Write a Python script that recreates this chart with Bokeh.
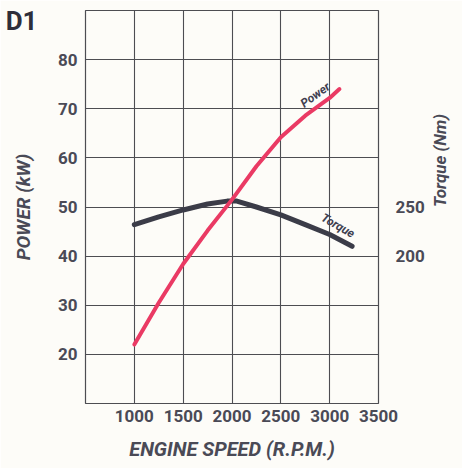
import math
from bokeh.plotting import figure
from bokeh.models import Range1d, LinearAxis, FixedTicker, Label
from bokeh.embed import file_html
from bokeh.resources import INLINE

# ---- data ----
power_rpm = [1000, 1250, 1500, 1750, 2000, 2250, 2500, 2750, 3000, 3100]
power_kw = [22.0, 30.5, 38.4, 45.2, 51.5, 58.3, 64.2, 68.6, 72.2, 74.0]
torque_rpm = [1000, 1250, 1500, 1750, 1950, 2050, 2250, 2500, 2750, 3000, 3230]
torque_nm = [232, 240, 247, 253, 256, 256, 250, 242, 232, 222, 210]
x_ticks = [1000, 1500, 2000, 2500, 3000, 3500]
power_ticks = [20, 30, 40, 50, 60, 70, 80]
torque_ticks = [200, 250]
corner_title = "D1"

FONT = "Roboto"
TXT = "#4a4a56"
GRID = "#4d4d52"
BG = "#fdfcf8"

p = figure(width=462, height=468, output_backend="svg", toolbar_location=None,
           x_range=Range1d(500, 3500), y_range=Range1d(10, 90),
           min_border_left=85, min_border_right=80, min_border_top=10, min_border_bottom=65,
           background_fill_color=BG, border_fill_color=BG)
p.extra_y_ranges = {"torque": Range1d(50, 450)}

p.outline_line_color = GRID
p.outline_line_width = 1.2
p.xgrid.ticker = FixedTicker(ticks=x_ticks)
p.ygrid.ticker = FixedTicker(ticks=power_ticks)
for g in (p.xgrid, p.ygrid):
    g.grid_line_color = GRID
    g.grid_line_width = 1.1

def style_axis(ax, ticks, size="17px"):
    ax.ticker = FixedTicker(ticks=ticks)
    ax.axis_line_color = None
    ax.major_tick_line_color = None
    ax.minor_tick_line_color = None
    ax.major_tick_out = 0
    ax.major_tick_in = 0
    ax.minor_tick_out = 0
    ax.major_label_text_font = FONT
    ax.major_label_text_font_style = "bold"
    ax.major_label_text_font_size = size
    ax.major_label_text_color = TXT
    ax.axis_label_text_font = FONT
    ax.axis_label_text_font_style = "bold italic"
    ax.axis_label_text_color = TXT

style_axis(p.xaxis[0], x_ticks)
p.xaxis[0].axis_label = "ENGINE SPEED (R.P.M.)"
p.xaxis[0].axis_label_text_font_size = "20px"
p.xaxis[0].major_label_standoff = 6
p.xaxis[0].axis_label_standoff = 12

style_axis(p.yaxis[0], power_ticks)
p.yaxis[0].axis_label = "POWER (kW)"
p.yaxis[0].axis_label_text_font_size = "19px"
p.yaxis[0].major_label_standoff = 8
p.yaxis[0].axis_label_standoff = 20

# outer left axis used only to place the corner title at the top-left
cax = LinearAxis()
style_axis(cax, [87.8], "26px")
cax.major_label_overrides = {87.8: corner_title}
cax.major_label_text_color = "#2e2e3a"
cax.major_label_standoff = -29
p.add_layout(cax, "left")

rax = LinearAxis(y_range_name="torque")
style_axis(rax, torque_ticks)
rax.major_label_standoff = 17
rax.axis_label = "Torque (Nm)"
rax.axis_label_text_font_size = "17px"
rax.axis_label_standoff = 12
try:
    rax.axis_label_orientation = -1.5 * math.pi
except Exception:
    pass
p.add_layout(rax, "right")

p.line(torque_rpm, torque_nm, y_range_name="torque", line_color="#3b3c48",
       line_width=5, line_cap="round", line_join="round")
p.line(power_rpm, power_kw, line_color="#ea3a64", line_width=4,
       line_cap="round", line_join="round")

p.add_layout(Label(x=2853, y=72.8, text="Power", angle=36, angle_units="deg",
                   text_align="center", text_baseline="middle",
                   text_font=FONT, text_font_style="bold italic",
                   text_font_size="12px", text_color="#3f4050"))
p.add_layout(Label(x=3086, y=231, y_range_name="torque", text="Torque", angle=-30,
                   angle_units="deg", text_align="center", text_baseline="middle",
                   text_font=FONT, text_font_style="bold italic",
                   text_font_size="12px", text_color="#3f4050"))

open("out.html", "w").write(file_html(p, INLINE))
